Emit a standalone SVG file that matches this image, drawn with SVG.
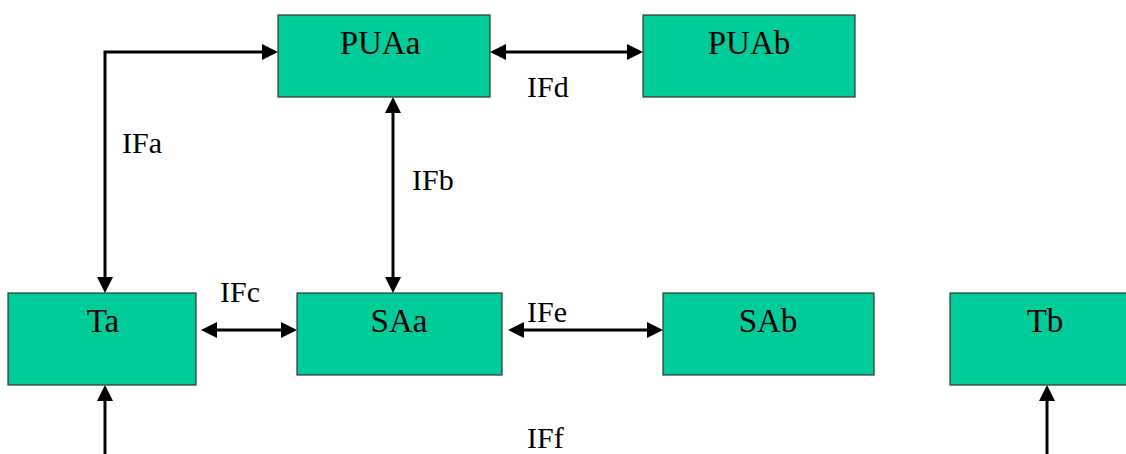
<svg xmlns="http://www.w3.org/2000/svg" width="1126" height="454" viewBox="0 0 1126 454">
<style>
.box{fill:#00CC99;stroke:#333333;stroke-width:1.2}
.nt{font-family:"Liberation Serif","Times New Roman",serif;font-size:33px;fill:#000;text-anchor:middle}
.lt{font-family:"Liberation Serif","Times New Roman",serif;font-size:30px;fill:#000}
.cn{fill:none;stroke:#000;stroke-width:3}
</style>
<defs>
<marker id="ah" markerUnits="userSpaceOnUse" markerWidth="16" markerHeight="16" refX="8" refY="8" orient="auto-start-reverse" viewBox="0 0 16 16">
<path d="M0,0 L16,8 L0,16 z" fill="#000"/>
</marker>
</defs>
<rect width="1126" height="454" fill="#fff"/>
<g id="connectors">
<polyline class="cn" points="105,285 105,52 270,52" marker-start="url(#ah)" marker-end="url(#ah)"/>
<line class="cn" x1="393" y1="105" x2="393" y2="285" marker-start="url(#ah)" marker-end="url(#ah)"/>
<line class="cn" x1="498" y1="52" x2="635" y2="52" marker-start="url(#ah)" marker-end="url(#ah)"/>
<line class="cn" x1="209" y1="330" x2="289" y2="330" marker-start="url(#ah)" marker-end="url(#ah)"/>
<line class="cn" x1="516" y1="330" x2="655" y2="330" marker-start="url(#ah)" marker-end="url(#ah)"/>
<line class="cn" x1="105" y1="454" x2="105" y2="393" marker-end="url(#ah)"/>
<line class="cn" x1="1047" y1="454" x2="1047" y2="393" marker-end="url(#ah)"/>
</g>
<g id="labels">
<text class="lt" x="122" y="153">IFa</text>
<text class="lt" x="412" y="190">IFb</text>
<text class="lt" x="220" y="302">IFc</text>
<text class="lt" x="527" y="97">IFd</text>
<text class="lt" x="527" y="322">IFe</text>
<text class="lt" x="527" y="448">IFf</text>
</g>
<g id="PUAa"><rect class="box" x="278" y="15" width="212" height="82"/><text class="nt" x="380" y="54">PUAa</text></g>
<g id="PUAb"><rect class="box" x="643" y="15" width="212" height="82"/><text class="nt" x="749" y="54">PUAb</text></g>
<g id="Ta"><rect class="box" x="8" y="293" width="188" height="92"/><text class="nt" x="103" y="332">Ta</text></g>
<g id="SAa"><rect class="box" x="297" y="293" width="205" height="82"/><text class="nt" x="399" y="332">SAa</text></g>
<g id="SAb"><rect class="box" x="663" y="293" width="211" height="82"/><text class="nt" x="768" y="332">SAb</text></g>
<g id="Tb"><rect class="box" x="950" y="293" width="190" height="92"/><text class="nt" x="1045" y="332">Tb</text></g>
</svg>
